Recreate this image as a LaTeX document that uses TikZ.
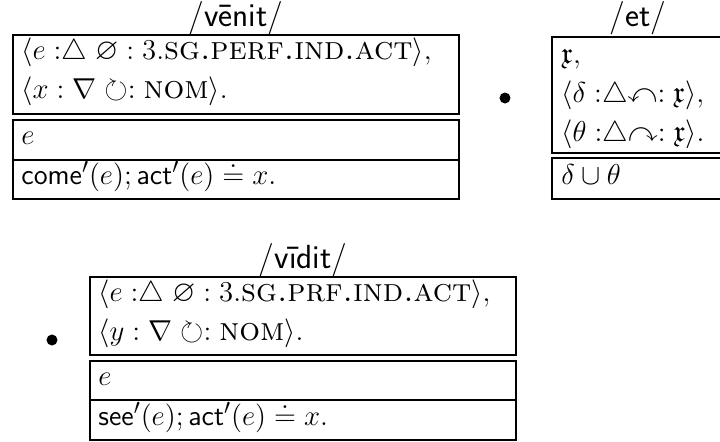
\documentclass[tikz,border=0pt]{standalone}
\usepackage{amsmath,amssymb}
% type sizes for the entries
\newcommand{\bodyfont}{\fontsize{15}{18}\selectfont}
\newcommand{\titlefont}{\fontsize{16.7}{19}\selectfont\sffamily}
\newcommand{\tri}{\mathrel{\triangle}}
% glosses in small capitals
\newcommand{\gl}[1]{\text{\fontsize{16.3}{19}\selectfont\scshape #1}}
% predicate names in sans serif
\newcommand{\pred}[1]{\text{\fontsize{14.2}{17}\selectfont\sffamily #1}}
\begin{document}
\begin{tikzpicture}[x=0.5pt,y=-0.5pt]
\tikzset{
  cell/.style={draw=black, line width=1.3pt},
  txt/.style={anchor=base west, inner sep=0pt, font=\bodyfont},
  ttl/.style={anchor=base, inner sep=0pt, font=\titlefont},
  dot/.style={fill=black, circle, inner sep=0pt, minimum size=5.5pt}
}
\useasboundingbox (0,0) rectangle (720,441);
\clip (0,0) rectangle (720,441);

% /venit/
\node[ttl] (vtitle) at (236,26) {/vēnit/};
\draw[cell] (13,35) rectangle (459,114);
\draw[cell] (13,120) rectangle (459,160);
\draw[cell] (13,160) rectangle (459,199);
\node[txt] (v1) at (21,59) {$\langle e \mathrel{:}\tri \varnothing : 3.\gl{sg.perf.ind.act}\rangle,$};
\node[txt] (v2) at (21,98) {$\langle x : \nabla \circlearrowright : \gl{nom}\rangle.$};
\node[txt] (v3) at (21,144) {$e$};
\node[txt] (v4) at (21,184) {$\pred{come}'(e); \pred{act}'(e) \doteq x.$};

% /et/
\node[dot] (b1) at (505,98) {};
\node[ttl] (etitle) at (638,26) {/et/};
\draw[cell] (552,37) rectangle (724,153);
\draw[cell] (552,158) rectangle (724,199);
\node[txt] (e1) at (561,63) {$\mathfrak{x},$};
\node[txt] (e2) at (561,102) {$\langle \delta \mathrel{:}\tri\curvearrowleft : \mathfrak{x}\rangle,$};
\node[txt] (e3) at (561,141) {$\langle \theta \mathrel{:}\tri\curvearrowright : \mathfrak{x}\rangle.$};
\node[txt] (e4) at (561,184) {$\delta \cup \theta$};

% /vidit/
\node[dot] (b2) at (52,340) {};
\node[ttl] (dtitle) at (303,268) {/vīdit/};
\draw[cell] (90,277) rectangle (516,355);
\draw[cell] (90,361) rectangle (516,400);
\draw[cell] (90,400) rectangle (516,440);
\node[txt] (d1) at (98,301) {$\langle e \mathrel{:}\tri \varnothing : 3.\gl{sg.prf.ind.act}\rangle,$};
\node[txt] (d2) at (98,340) {$\langle y : \nabla \circlearrowright : \gl{nom}\rangle.$};
\node[txt] (d3) at (98,385) {$e$};
\node[txt] (d4) at (98,425) {$\pred{see}'(e); \pred{act}'(e) \doteq x.$};
\end{tikzpicture}
\end{document}
